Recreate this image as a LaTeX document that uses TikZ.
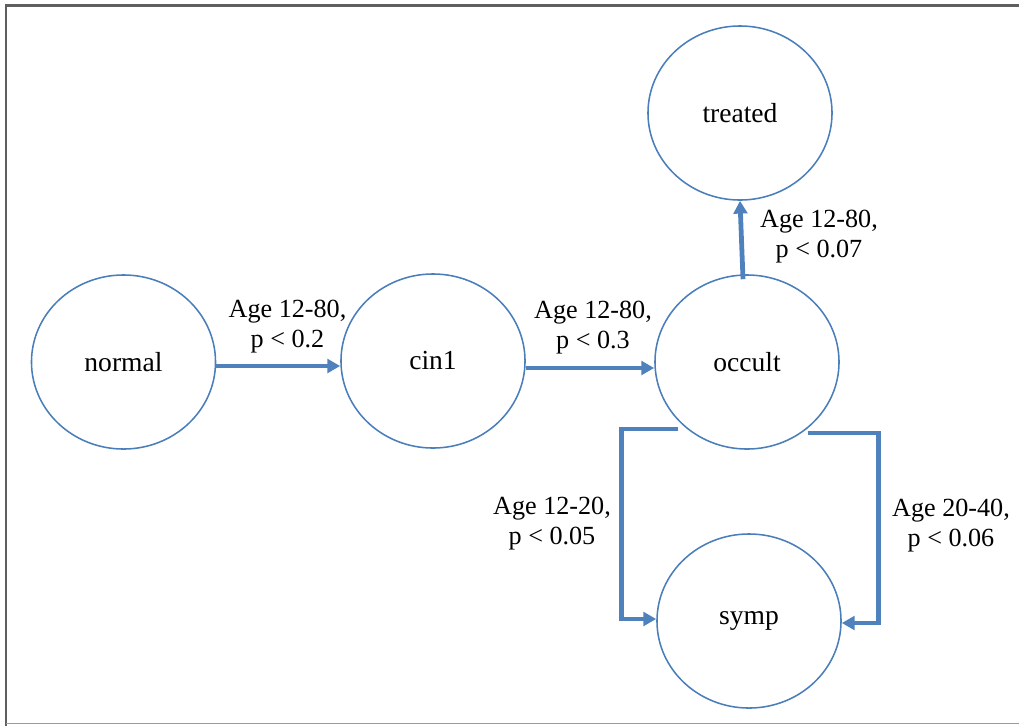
\documentclass[tikz,border=0pt]{standalone}
\usepackage{fontspec}
\setmainfont{Liberation Serif}
\usetikzlibrary{shapes.geometric,arrows.meta,calc}
\definecolor{nodeblue}{HTML}{4A7EBB}
\definecolor{arrowblue}{HTML}{4F81BD}
\definecolor{framegray}{HTML}{5F5F5F}
\definecolor{framelight}{HTML}{9A9A9A}
\begin{document}
\begin{tikzpicture}[x=0.025cm,y=-0.025cm,
  state/.style={ellipse,draw=nodeblue,line width=1.1pt,minimum width=4.6cm,minimum height=4.35cm,inner sep=0pt,font=\fontsize{19.6}{22}\selectfont},
  flow/.style={draw=arrowblue,line width=3.4pt,-{Triangle[length=0.32cm,width=0.34cm]}},
  lbl/.style={align=center,font=\fontsize{18.6}{21.3}\selectfont,inner sep=0pt}]
\useasboundingbox (0,0) rectangle (1019,726);
\draw[framegray,line width=1.5pt] (6,726) -- (6,5.5) -- (1019,5.5);
\draw[framelight,line width=1pt] (6,723.5) -- (1019,723.5);

\node[state] (normal) at (123.5,362) {normal};
\node[state] (cin1) at (433,361) {cin1};
\node[state] (occult) at (747,362) {occult};
\node[state] (treated) at (740,113) {treated};
\node[state] (symp) at (749,621) {symp};

\coordinate (l0) at ($(occult.south west)+(-3,5)$);
\coordinate (r0) at ($(occult.south east)+(-5,9)$);

\draw[flow] ($(normal.east)+(0,4)$) -- ($(cin1.west)+(0,5)$);
\draw[flow] ($(cin1.east)+(0,7)$) -- ($(occult.west)+(0,6)$);
\draw[flow] ($(occult.north)+(-4,5)$) -- (treated.south);
\draw[flow] (l0) -- ($(l0)+(-57,0)$) |- ($(symp.west)+(0,-2)$);
\draw[flow] (r0) -- ($(r0)+(71,0)$) |- ($(symp.east)+(0,2)$);

\node[lbl] (lab1) at (287.5,327) {Age 12-80,\\p < 0.2};
\node[lbl] (lab2) at (593,328) {Age 12-80,\\p < 0.3};
\node[lbl] (lab3) at (819,237) {Age 12-80,\\p < 0.07};
\node[lbl] (lab4) at (552,524) {Age 12-20,\\p < 0.05};
\node[lbl] (lab5) at (951,526) {Age 20-40,\\p < 0.06};
\end{tikzpicture}
\end{document}
